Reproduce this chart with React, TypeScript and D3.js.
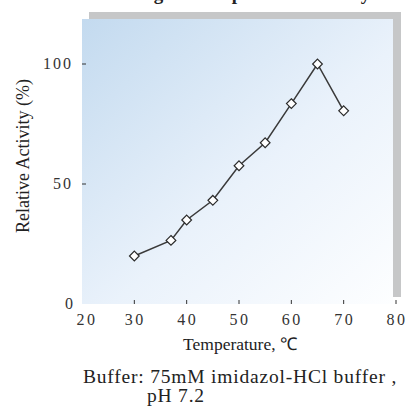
import React, { useRef, useEffect } from 'react';
import * as d3 from 'd3';

const temperatures = [30, 37, 40, 45, 50, 55, 60, 65, 70];
const activity = [20, 26.5, 35, 43.2, 57.6, 67.2, 83.5, 100, 80.5];
const xTicks = [20, 30, 40, 50, 60, 70, 80];
const yTicks = [0, 50, 100];

const W = 406;
const H = 408;

const App: React.FC = () => {
	const svgRef = useRef<SVGSVGElement | null>(null);

	useEffect(() => {
		const svg = d3.select(svgRef.current);
		svg.selectAll('*').remove();

		const left = 82;
		const right = 396;
		const top = 19;
		const bottom = 304;

		const x = d3.scaleLinear().domain([20, 80]).range([left, right]);
		const y = d3.scaleLinear().domain([0, 118.75]).range([bottom, top]);

		const defs = svg.append('defs');
		const grad = defs
			.append('linearGradient')
			.attr('id', 'bg')
			.attr('x1', '0%')
			.attr('y1', '0%')
			.attr('x2', '100%')
			.attr('y2', '100%');
		grad.append('stop').attr('offset', '0%').attr('stop-color', '#c3daef');
		grad.append('stop').attr('offset', '55%').attr('stop-color', '#eaf2fb');
		grad.append('stop').attr('offset', '100%').attr('stop-color', '#fdfeff');

		// title, cut off by the top edge like in the source
		svg.append('text')
			.attr('x', 245)
			.attr('y', 0)
			.attr('text-anchor', 'middle')
			.attr('font-family', 'Liberation Serif, serif')
			.attr('font-weight', 'bold')
			.attr('font-size', 19)
			.attr('fill', '#222')
			.text('Range of Temperature Activity');

		// shadow frame
		svg.append('rect')
			.attr('x', 89)
			.attr('y', 12)
			.attr('width', 312)
			.attr('height', 285)
			.attr('fill', '#c6c7c8');

		svg.append('rect')
			.attr('x', left)
			.attr('y', top)
			.attr('width', 393 - left)
			.attr('height', bottom - top)
			.attr('fill', 'url(#bg)');

		const tickColor = '#333';
		const labelFont = 'Liberation Serif, serif';

		// x ticks (inside, upward)
		svg.append('g')
			.selectAll('line')
			.data(xTicks.slice(1))
			.join('line')
			.attr('x1', (d) => x(d))
			.attr('x2', (d) => x(d))
			.attr('y1', bottom - 4)
			.attr('y2', bottom)
			.attr('stroke', tickColor)
			.attr('stroke-width', 1);

		svg.append('g')
			.selectAll('text')
			.data(xTicks)
			.join('text')
			.attr('x', (d) => x(d) + (d === 20 ? 5 : 1))
			.attr('y', 325)
			.attr('text-anchor', 'middle')
			.attr('font-family', labelFont)
			.attr('font-size', 16)
			.attr('letter-spacing', 2.5)
			.attr('fill', '#333')
			.text((d) => d);

		// y ticks (inside, rightward)
		svg.append('g')
			.selectAll('line')
			.data(yTicks.slice(1))
			.join('line')
			.attr('x1', left)
			.attr('x2', left + 4)
			.attr('y1', (d) => y(d))
			.attr('y2', (d) => y(d))
			.attr('stroke', tickColor)
			.attr('stroke-width', 1);

		svg.append('g')
			.selectAll('text')
			.data(yTicks)
			.join('text')
			.attr('x', (d) => (d === 0 ? 75 : 73))
			.attr('y', (d) => y(d) + 5)
			.attr('text-anchor', 'end')
			.attr('font-family', labelFont)
			.attr('font-size', 16)
			.attr('letter-spacing', 2)
			.attr('fill', '#333')
			.text((d) => d);

		// axis titles
		svg.append('text')
			.attr('transform', 'translate(29,156) rotate(-90)')
			.attr('text-anchor', 'middle')
			.attr('font-family', labelFont)
			.attr('font-size', 18)
			.attr('fill', '#222')
			.text('Relative Activity (%)');

		svg.append('text')
			.attr('x', 240)
			.attr('y', 350)
			.attr('text-anchor', 'middle')
			.attr('font-family', labelFont)
			.attr('font-size', 17.5)
			.attr('fill', '#222')
			.text('Temperature, ℃');

		svg.append('text')
			.attr('x', 83)
			.attr('y', 383)
			.attr('font-family', labelFont)
			.attr('font-size', 19.5)
			.attr('letter-spacing', 0.8)
			.attr('fill', '#222')
			.text('Buffer: 75mM imidazol-HCl buffer ,');

		svg.append('text')
			.attr('x', 147)
			.attr('y', 402)
			.attr('font-family', labelFont)
			.attr('font-size', 19.5)
			.attr('letter-spacing', 0.8)
			.attr('fill', '#222')
			.text('pH 7.2');

		// line + markers
		const pts = temperatures.map((t, i) => [t, activity[i]] as [number, number]);
		const line = d3
			.line<[number, number]>()
			.x((d) => x(d[0]))
			.y((d) => y(d[1]));

		svg.append('path')
			.datum(pts)
			.attr('d', line)
			.attr('fill', 'none')
			.attr('stroke', '#3a3a3a')
			.attr('stroke-width', 1.5);

		const diamond = d3.symbol().type(d3.symbolDiamond2).size(60);
		svg.append('g')
			.selectAll('path')
			.data(pts)
			.join('path')
			.attr('transform', (d) => `translate(${x(d[0])},${y(d[1])})`)
			.attr('d', diamond)
			.attr('fill', '#fff')
			.attr('stroke', '#2a2a2a')
			.attr('stroke-width', 1.2);
	}, []);

	return (
		<svg
			ref={svgRef}
			width={W}
			height={H}
			style={{ position: 'absolute', left: 0, top: 0, display: 'block' }}
		/>
	);
};

export default App;
